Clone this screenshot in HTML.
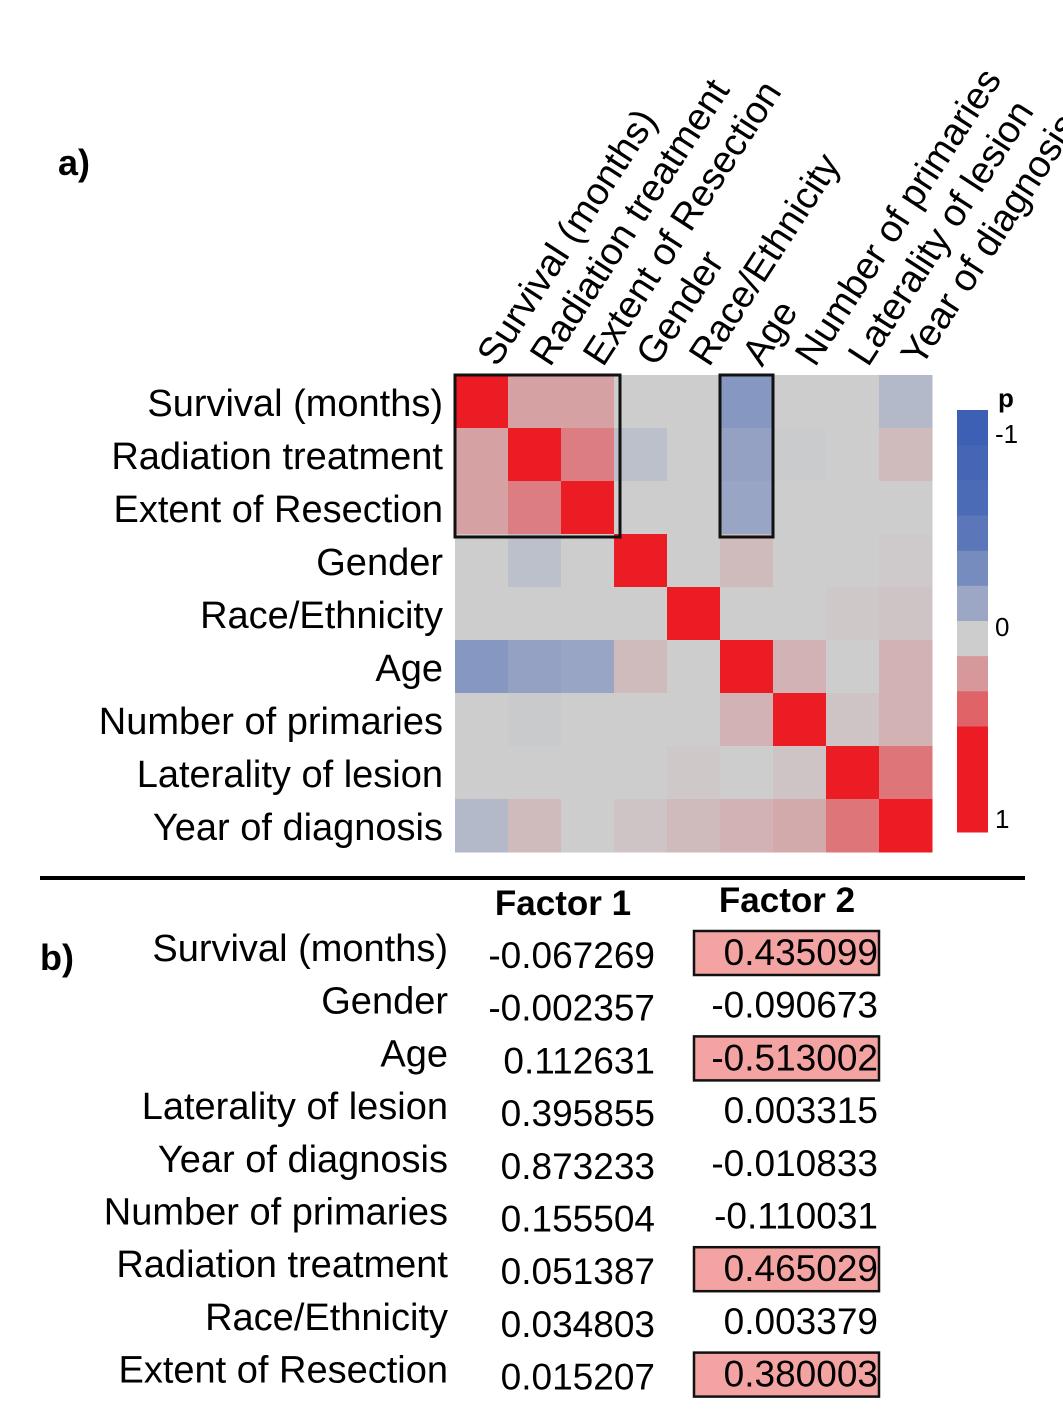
<!DOCTYPE html>
<html><head><meta charset="utf-8"><style>
html,body{margin:0;padding:0;background:#fff}
svg{display:block;font-family:"Liberation Sans",sans-serif}
</style></head><body>
<svg id="fig" width="1063" height="1414" viewBox="0 0 1063 1414">
<text x="58" y="175" font-size="36" font-weight="bold">a)</text>
<g id="heat"></g>
<g id="bar"></g>
<line x1="40" y1="878" x2="1025" y2="878" stroke="#000" stroke-width="4"/>
<text x="40" y="970" font-size="36" font-weight="bold">b)</text>
<g id="table"></g>
</svg>
<script>
const NS='http://www.w3.org/2000/svg';
const vars=["Survival (months)","Radiation treatment","Extent of Resection","Gender","Race/Ethnicity","Age","Number of primaries","Laterality of lesion","Year of diagnosis"];
const corr=[
[1,.25,.25,0,0,-.5,0,0,-.18],
[.25,1,.45,-.12,0,-.4,-.02,0,.1],
[.25,.45,1,0,0,-.37,0,0,0],
[0,-.12,0,1,0,.1,0,0,.02],
[0,0,0,0,1,0,0,.03,.05],
[-.5,-.4,-.37,.1,0,1,.15,0,.15],
[0,-.03,0,0,0,.15,1,.05,.15],
[0,0,0,0,.03,0,.05,1,.5],
[-.18,.1,0,.05,.1,.15,.2,.5,1]];
const barVals=[-1,-0.95,-0.9,-0.8,-0.6,-0.35,0,0.3,0.6,1,1,1];
const barLabels=["-1","0","1"];
const tableVars=["Survival (months)","Gender","Age","Laterality of lesion","Year of diagnosis","Number of primaries","Radiation treatment","Race/Ethnicity","Extent of Resection"];
const f1=["-0.067269","-0.002357","0.112631","0.395855","0.873233","0.155504","0.051387","0.034803","0.015207"];
const f2=["0.435099","-0.090673","-0.513002","0.003315","-0.010833","-0.110031","0.465029","0.003379","0.380003"];
const f2hi=[true,false,true,false,false,false,true,false,true];

const X0=455,Y0=375,C=53;
const cx=i=>X0+i*C, cy=i=>Y0+i*C;
function col(v){const g=[205,205,205],r=[236,28,36],b=[62,96,180];const t=Math.abs(v),e=v>=0?r:b;
 return 'rgb('+g.map((c,k)=>Math.round(c+(e[k]-c)*t)).join(',')+')';}
function mk(tag,attrs,parent){const el=document.createElementNS(NS,tag);for(const k in attrs)el.setAttribute(k,attrs[k]);parent.appendChild(el);return el;}
const heat=document.getElementById('heat');
corr.forEach((row,i)=>row.forEach((v,j)=>{
 const r=mk('rect',{x:cx(j),y:cy(i),width:C+0.5,height:C+0.5,fill:col(v)},heat);
 
 
}));
vars.forEach((s,i)=>{
 const t=mk('text',{x:443,y:cy(i)+41,'font-size':38,'text-anchor':'end'},heat);t.textContent=s;
 
 
 const c=mk('text',{x:0,y:0,'font-size':38,transform:'translate('+(cx(i)+42)+',368) rotate(-57)'},heat);c.textContent=s;
 
 
});
let b1=mk('rect',{x:cx(0),y:cy(0),width:3*C+6,height:3*C+3,fill:'none',stroke:'#111','stroke-width':3},heat);


let b2=mk('rect',{x:cx(5),y:cy(0),width:C,height:3*C+3,fill:'none',stroke:'#111','stroke-width':3},heat);



const bar=document.getElementById('bar');
const BY0=410,BY1=832,BH=(BY1-BY0)/barVals.length;
barVals.forEach((v,i)=>{const r=mk('rect',{x:957,y:BY0+i*BH,width:31,height:BH+0.5,fill:col(v)},bar);
 
 });
let p=mk('text',{x:998,y:407,'font-size':26,'font-weight':'bold'},bar);p.textContent='p';


[[0,443],[1,636],[2,828]].forEach(([k,y])=>{const t=mk('text',{x:995,y:y,'font-size':26},bar);t.textContent=barLabels[k];
 
 });

const tb=document.getElementById('table');
let h1=mk('text',{x:563,y:915,'font-size':35,'font-weight':'bold','text-anchor':'middle'},tb);h1.textContent='Factor 1';


let h2=mk('text',{x:787,y:912,'font-size':35,'font-weight':'bold','text-anchor':'middle'},tb);h2.textContent='Factor 2';


tableVars.forEach((s,i)=>{
 const y=963+i*52.7;
 const l=mk('text',{x:448,y:y-2,'font-size':38,'text-anchor':'end'},tb);l.textContent=s;
 
 
 const a=mk('text',{x:655,y:y+5,'font-size':37,'text-anchor':'end'},tb);a.textContent=f1[i];
 
 
 if(f2hi[i]){const r=mk('rect',{x:694,y:y-32,width:185,height:44,fill:'#f4a3a3',stroke:'#111','stroke-width':2.5},tb);
  
  }
 const b=mk('text',{x:878,y:y+2,'font-size':37,'text-anchor':'end'},tb);b.textContent=f2[i];
 
 
});
</script>
</body></html>
